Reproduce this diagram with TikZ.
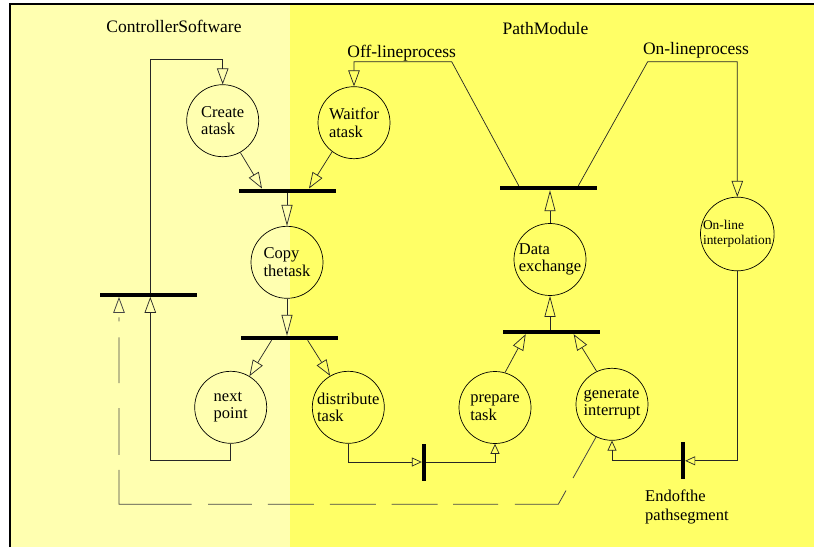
\documentclass[tikz,border=0pt]{standalone}
\usepackage{fontspec}
\setmainfont{Liberation Serif}
\usetikzlibrary{arrows.meta,calc}
\definecolor{paleyellow}{RGB}{255,255,176}
\definecolor{brightyellow}{RGB}{255,255,102}
\begin{document}
\begin{tikzpicture}[x=1pt,y=-1pt,
  place/.style={circle,draw=black,line width=0.7pt,minimum size=72pt,inner sep=0pt,
    align=left,font=\fontsize{16.5}{17.5}\selectfont},
  bar/.style={fill=black,inner sep=0pt,minimum width=97pt,minimum height=4pt},
  vbar/.style={fill=black,inner sep=0pt,minimum width=4pt,minimum height=37pt},
  link/.style={draw=black!85,line width=0.7pt},
  arr/.style={link,-{Triangle[open,length=16pt,width=11.5pt]}},
  arrlong/.style={link,-{Triangle[open,length=21pt,width=11pt]}},
  arrsmall/.style={link,-{Triangle[open,length=10pt,width=9pt]}},
  % long-dash feedback line; the dashes follow the hand-drawn original spacing
  dashlink/.style={draw=black!72,line width=0.8pt,
    dash pattern=on 47pt off 14.4pt on 59.3pt off 16.6pt on 45pt off 15.7pt
      on 46pt off 15.7pt on 46pt off 16pt on 46pt off 16pt on 43.6pt off 16.7pt
      on 107pt off 15pt on 46.6pt off 25pt on 45.7pt off 16pt on 4pt off 40pt},
  title/.style={font=\fontsize{17.5}{19}\selectfont,inner sep=0pt,anchor=base}
]
\useasboundingbox (0,0) rectangle (814,548);
% two swimlanes and frame
\fill[white] (0,0) rectangle (814,548);
\fill[paleyellow] (10,4) rectangle (290,547);
\fill[brightyellow] (290,4) rectangle (814,547);
\draw[line width=2.3pt] (10,547) -- (10,3.8) -- (814,3.8);

% lane titles and process labels
\node[title] (lcs) at (174,32.3) {ControllerSoftware};
\node[title] (lpm) at (545.5,34.3) {PathModule};
\node[title] (lofl) at (401.7,57.3) {Off-lineprocess};
\node[title] (lonl) at (696,54.3) {On-lineprocess};
\node[anchor=north west,align=left,inner sep=0pt,font=\fontsize{16.5}{18.5}\selectfont]
  (lend) at (645,489.7) {Endofthe\\pathsegment};

% places
\node[place] (create) at (222.7,120.7) {Create\\atask};
\node[place] (wait)   at (354,122.7)   {Waitfor\\atask};
\node[place] (copy)   at (287,262.3)   {Copy\\thetask};
\node[place] (next)   at (230.7,407.3) {next\\point};
\node[place] (dist)   at (348.3,407.3) {distribute\\task};
\node[place] (dex)    at (550,259.5)   {Data\\exchange};
\node[place,font=\fontsize{13.4}{15.5}\selectfont] (online) at (737.3,234) {On-line\\interpolation};
\node[place] (prep)   at (495,407.5)   {prepare\\task};
\node[place] (gen)    at (612,404.3)   {generate\\interrupt};

% transitions
\node[bar] (bar1) at (287,190.7) {};
\node[bar] (bar2) at (289.6,338) {};
\node[bar] (bar3) at (148.3,294.7) {};
\node[bar] (bar4) at (548.8,188) {};
\node[bar] (bar5) at (551.2,332) {};
\node[vbar] (bar6) at (424,462) {};
\node[vbar] (bar7) at (683,460.8) {};

% corner points of the routed lines
\coordinate (lp) at (150.3,460.7);
\coordinate (tl) at (150.3,59.7);
\coordinate (dk) at (558.3,504.3);
\coordinate (dl) at (119,504.3);
\coordinate (ofl) at (451.7,61.7);
\coordinate (onl) at (647.7,61.7);

% controller software side
\draw[arr] (create.-61) -- ($(bar1.north)+(-25,0)$);
\draw[arr] (wait.-127) -- ($(bar1.north)+(22,0)$);
\draw[arrlong] (bar1.south -| copy.north) -- (copy.north);
\draw[arrlong] (copy.south) -- (copy.south |- bar2.north);
\draw[arr] ($(bar2.south)+(-18,0)$) -- (next.59);
\draw[arr] ($(bar2.south)+(18,0)$) -- (dist.120);
\draw[arr] (next.south) |- (lp) -- (lp |- bar3.south);
\draw[arr] (lp |- bar3.north) -- (tl) -| (create.north);
\draw[arr,dashlink] (gen.-116) -- (dk) -- (dl) -- (dl |- bar3.south);

% path module side
\draw[arrsmall] (dist.south) |- (bar6.west);
\draw[arrsmall] (bar6.east) -| (prep.south);
\draw[arr] (prep.74) -- ($(bar5.south)+(-25.5,0)$);
\draw[arr] (gen.115) -- ($(bar5.south)+(22.5,0)$);
\draw[arrlong] (bar5.north -| dex.south) -- (dex.south);
\draw[arrlong] (dex.north) -- (dex.north |- bar4.south);
\draw[arr] ($(bar4.north)+(-30,0)$) -- (ofl) -| (wait.north);
\draw[arr] ($(bar4.north)+(29.5,0)$) -- (onl) -| (online.north);
\draw[arrsmall] (online.south) |- (bar7.east);
\draw[arrsmall] (bar7.west) -| (gen.south);
\end{tikzpicture}
\end{document}
